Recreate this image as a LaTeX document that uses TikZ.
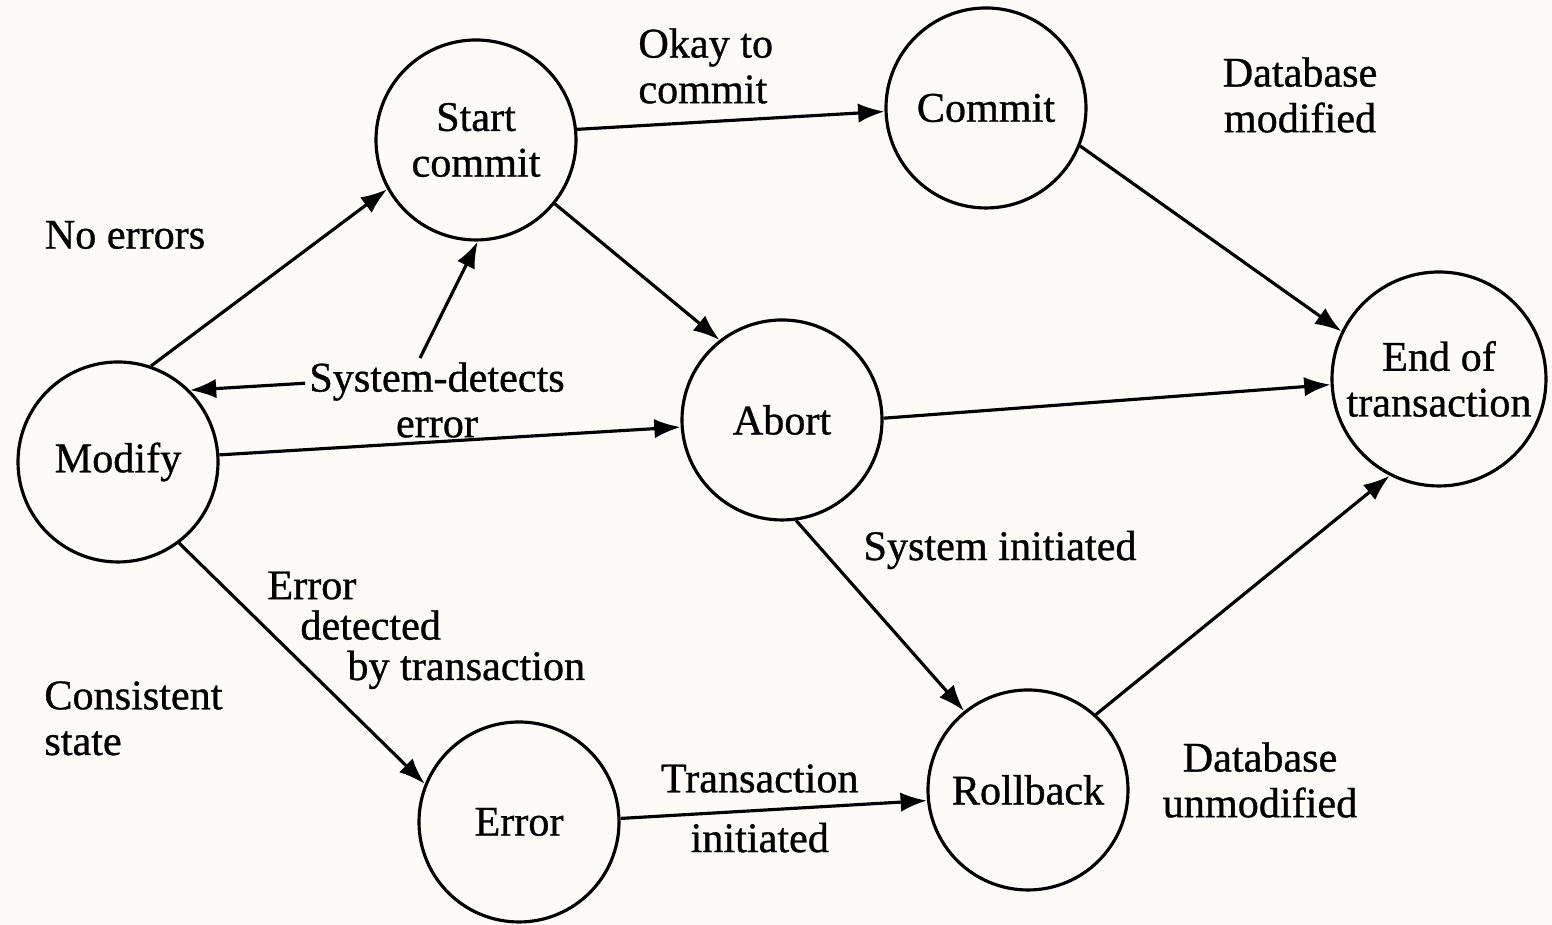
\documentclass[tikz,border=0pt]{standalone}
\usepackage{fontspec}
\setmainfont{Liberation Serif}[BoldFont={Liberation Serif}, BoldFeatures={FakeBold=0.8}]
\usetikzlibrary{arrows.meta, calc}

\begin{document}
\begin{tikzpicture}[font=\fontsize{12}{13}\selectfont\bfseries,
    state/.style={draw, circle, line width=0.9pt, minimum size=2cm, inner sep=0pt, align=center},
    arr/.style={-{Latex[length=7.5pt, width=5.5pt]}, line width=0.9pt}]
    \useasboundingbox[fill={rgb,255:red,253;green,251;blue,248}] (0,0) rectangle (15.52,9.25);
    \node[state] (modify) at (1.18,4.63) {Modify};
    \node[state] (start) at (4.76,7.85) {Start\\commit};
    \node[state] (commit) at (9.86,8.17) {Commit};
    \node[state] (abort) at (7.82,5.05) {Abort};
    \node[state, minimum size=2.14cm] (eot) at (14.39,5.46) {End of\\transaction};
    \node[state] (error) at (5.19,1.03) {Error};
    \node[state] (rollback) at (10.28,1.35) {Rollback};
    \node[align=center, inner sep=1pt] (sysdet) at (4.37,5.25) {System-detects\\error};
    \node (noerr) at (1.25,6.90) {No errors};
    \node[align=center] (dbmod) at (13.00,8.30) {Database\\modified};
    \node[align=left, anchor=base west] (consist) at (0.32,1.70) {Consistent\\state};
    \node[align=left, anchor=base west, font=\fontsize{12}{11.5}\selectfont\bfseries] (errlbl) at (2.55,2.45) {Error\\\hspace*{0.33cm}detected\\\hspace*{0.80cm}by transaction};
    \node (sysinit) at (10.00,3.75) {System initiated};
    \node[align=center] (dbunmod) at (12.60,1.45) {Database\\unmodified};
    \draw[arr] (modify.71) -- (start.209);
    \draw[arr] (start.6) -- (commit.182) node[midway, above=1pt, xshift=-0.25cm, align=left] {Okay to\\commit};
    \draw[arr] (start.-39) -- (abort.128);
    \draw[arr] (commit.-22) -- (eot.154);
    \draw[arr] (abort.1) -- (eot.183);
    \draw[arr] (modify.4) -- (abort.184);
    \draw[arr] ($(sysdet.north west)!0.3!(sysdet.south west)$) -- (modify.45);
    \draw[arr] ($(sysdet.north)+(-0.17,0)$) -- (start.-89);
    \draw[arr] (modify.-53) -- (error.158);
    \draw[arr] (error.2) -- (rollback.186) node[midway, above=1pt, xshift=-0.14cm] {Transaction} node[midway, below=0pt, xshift=-0.14cm] {initiated};
    \draw[arr] (abort.-82) -- (rollback.129);
    \draw[arr] (rollback.48) -- (eot.243);
\end{tikzpicture}
\end{document}
